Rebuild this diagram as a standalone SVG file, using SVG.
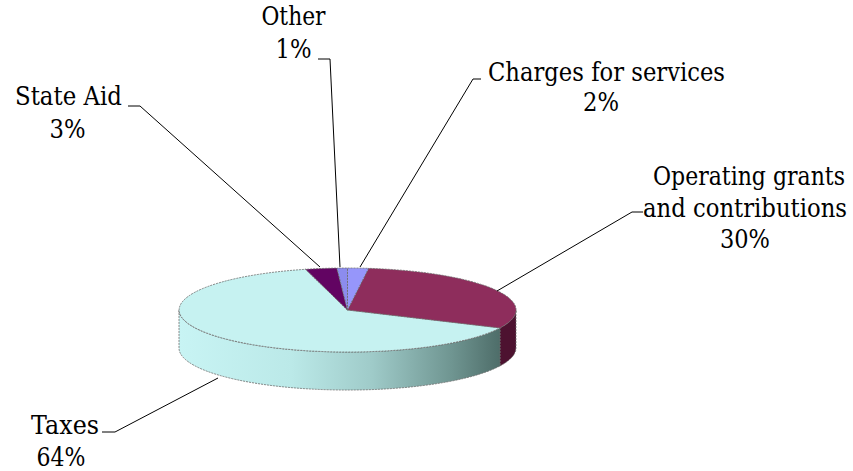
<svg xmlns="http://www.w3.org/2000/svg" width="853" height="471" viewBox="0 0 853 471">
<defs>
<style>
text{font-family:"DejaVu Serif","Liberation Serif",serif;font-size:26px;fill:#000;text-anchor:middle}
text.r{text-anchor:end}
.lead{fill:none;stroke:#000;stroke-width:1}
.edge{stroke:#6a6a6a;stroke-width:0.8;stroke-dasharray:2 1}
</style>
<linearGradient id="taxSide" x1="179" y1="0" x2="500" y2="0" gradientUnits="userSpaceOnUse">
<stop offset="0" stop-color="#c8f4f4"/>
<stop offset="0.35" stop-color="#bbe9e8"/>
<stop offset="0.6" stop-color="#9fcbc9"/>
<stop offset="0.85" stop-color="#6f9591"/>
<stop offset="1" stop-color="#4e6d69"/>
</linearGradient>
</defs>
<rect width="853" height="471" fill="#fff"/>
<g id="pie">
<path id="side-grants" class="edge" fill="#4d1230" d="M516,310 A168.5,42 0 0 1 500,327.9 L500,365.9 A168.5,42 0 0 0 516,348 Z"/>
<path id="side-taxes" class="edge" fill="url(#taxSide)" d="M500,327.9 A168.5,42 0 0 1 179,310 L179,348 A168.5,42 0 0 0 500,365.9 Z"/>
<g id="node-taxes"><path class="edge" fill="#c6f2f1" d="M347.5,310 L500,327.9 A168.5,42 0 1 1 305.6,269.3 Z"/></g>
<g id="node-grants"><path class="edge" fill="#8e2d5c" d="M347.5,310 L368.6,268.33 A168.5,42 0 0 1 500,327.9 Z"/></g>
<g id="node-stateaid"><path class="edge" fill="#620462" d="M347.5,310 L305.6,269.3 A168.5,42 0 0 1 336.9,268.08 Z"/></g>
<g id="node-other"><path class="edge" fill="#8c8cee" d="M347.5,310 L336.9,268.08 A168.5,42 0 0 1 347.5,268 Z"/></g>
<g id="node-charges"><path class="edge" fill="#9696fa" d="M347.5,310 L347.5,268 A168.5,42 0 0 1 368.6,268.33 Z"/></g>
</g>
<g id="connectors">
<polyline class="lead" points="318,59 330,59 340,267"/>
<polyline class="lead" points="128,106 140,106 320,267"/>
<polyline class="lead" points="481,79 473,79 360,267"/>
<polyline class="lead" points="643,212 632,212 497,291"/>
<polyline class="lead" points="102,432 115,432 218,378"/>
</g>
<g id="label-other"><text x="293.5" y="25" textLength="64" lengthAdjust="spacingAndGlyphs">Other</text><text x="293.5" y="58" textLength="36" lengthAdjust="spacingAndGlyphs">1%</text></g>
<g id="label-stateaid"><text x="68.5" y="105" textLength="107" lengthAdjust="spacingAndGlyphs">State Aid</text><text x="67.5" y="138" textLength="36" lengthAdjust="spacingAndGlyphs">3%</text></g>
<g id="label-charges"><text x="606.5" y="81" textLength="237" lengthAdjust="spacingAndGlyphs">Charges for services</text><text x="601" y="111" textLength="36" lengthAdjust="spacingAndGlyphs">2%</text></g>
<g id="label-grants"><text class="r" x="845" y="185" textLength="192" lengthAdjust="spacingAndGlyphs">Operating grants</text><text class="r" x="847" y="217" textLength="204" lengthAdjust="spacingAndGlyphs">and contributions</text><text x="745" y="248" textLength="50" lengthAdjust="spacingAndGlyphs">30%</text></g>
<g id="label-taxes"><text x="65" y="434" textLength="68" lengthAdjust="spacingAndGlyphs">Taxes</text><text x="61" y="466" textLength="49" lengthAdjust="spacingAndGlyphs">64%</text></g>
</svg>
